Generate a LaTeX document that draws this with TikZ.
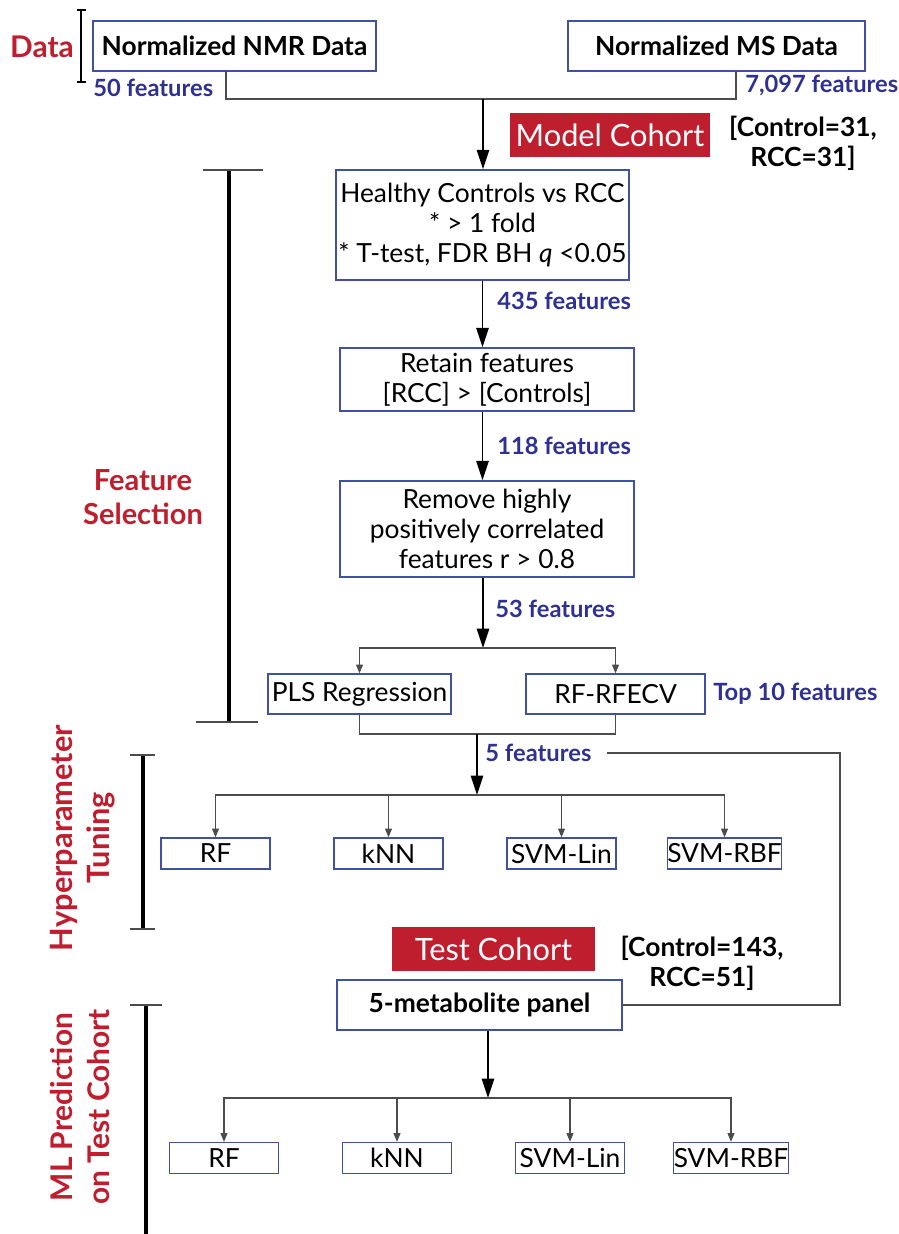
\documentclass[tikz,border=0pt]{standalone}
\usepackage{fontspec}
\setmainfont{Lato}
\usetikzlibrary{calc, arrows.meta}
\definecolor{cohortRed}{RGB}{190, 30, 45}
\definecolor{featBlue}{RGB}{46, 49, 146}
\definecolor{boxBlue}{RGB}{63, 81, 160}
\newcommand{\boxFont}{\fontsize{15}{17}\selectfont}
\newcommand{\featFont}{\fontsize{13.5}{16}\selectfont\bfseries}
\tikzstyle{flowBox} = [shape=rectangle, draw=boxBlue, line width=0.8pt, text=black,
	align=center, fill=white, inner sep=0pt, font=\boxFont]
\tikzstyle{dataBox} = [flowBox, minimum height=1cm, font=\fontsize{15}{18}\selectfont\bfseries]
\tikzstyle{modelBox} = [flowBox, minimum width=2.18cm, minimum height=0.62cm]
\tikzstyle{cohortBox} = [shape=rectangle, fill=cohortRed, text=white, inner sep=0pt,
	minimum width=4.02cm, minimum height=0.88cm, font=\fontsize{17.5}{20}\selectfont]
\tikzstyle{cohortText} = [align=center, font=\fontsize{15}{17}\selectfont\bfseries]
\tikzstyle{featText} = [anchor=west, text=featBlue, inner sep=0pt, font=\featFont]
\tikzstyle{stageText} = [align=center, text=cohortRed, font=\fontsize{16.5}{19}\selectfont\bfseries]
\tikzstyle{stageBar} = [line width=2.2pt, black]
\tikzstyle{thinLine} = [line width=0.6pt, draw=black!70]
\tikzstyle{thinArrow} = [thinLine, -{Triangle[length=5pt, width=4pt]}]
\tikzstyle{bigArrow} = [line width=1pt, draw=black, -{Triangle[length=11pt, width=7pt]}]

\begin{document}
\begin{tikzpicture}[x=0.02cm, y=-0.02cm]
  \useasboundingbox (0,0) rectangle (899,1234);

  % data
  \node (nmr) [dataBox, minimum width=5.66cm] at (234.5,46) {Normalized NMR Data};
  \node (ms)  [dataBox, minimum width=5.94cm] at (716.5,46) {Normalized MS Data};
  \node (nmrFeat) [featText] at (93,88) {50 features};
  \node (msFeat)  [featText] at (745,85) {7,097 features};
  \coordinate (nmrOut) at (226,71);
  \coordinate (msOut) at (736,71);
  \coordinate (dataJoin) at (483,99);

  \node (model) [cohortBox] at (610,135) {Model Cohort};
  \node (modelN) [cohortText] at (803,143) {[Control=31,\\RCC=31]};

  % feature selection
  \node (healthy) [flowBox, minimum width=5.86cm, minimum height=2.2cm] at (482.5,225)
    {Healthy Controls vs RCC\\* > 1 fold\\* T-test, FDR BH \textit{q} <0.05};
  \node (retain) [flowBox, minimum width=5.88cm, minimum height=1.26cm] at (487,379.5)
    {Retain features\\{[RCC]} > [Controls]};
  \node (remove) [flowBox, minimum width=5.88cm, minimum height=1.92cm] at (487,529)
    {Remove highly\\positively correlated\\features r > 0.8};
  \node (feat435) [featText] at (497,301) {435 features};
  \node (feat118) [featText] at (497,446) {118 features};
  \node (feat53)  [featText] at (495,609) {53 features};
  \coordinate (selSplit) at (483,648);
  \node (pls)   [flowBox, minimum width=3.66cm, minimum height=0.8cm] at (359.5,694) {PLS Regression};
  \node (rfecv) [flowBox, minimum width=3.58cm, minimum height=0.8cm] at (615.5,694) {RF-RFECV};
  \node (top10) [featText] at (713,694) {Top 10 features};
  \coordinate (selJoin) at (477,734);

  % tuning
  \node (feat5) [featText] at (485,753) {5 features};
  \coordinate (tuneSplit) at (477,795);
  \coordinate (fbStart) at (607,753);
  \coordinate (fbCorner) at (840,753);
  \node (tuneRF)  [modelBox] at (215.5,853.5) {RF};
  \node (tuneKNN) [modelBox] at (388.5,853.5) {kNN};
  \node (tuneLin) [modelBox] at (561.5,853.5) {SVM-Lin};
  \node (tuneRBF) [modelBox] at (724.5,853.5) {SVM-RBF};

  % test cohort
  \node (test) [cohortBox, minimum width=4.06cm] at (493.5,949) {Test Cohort};
  \node (testN) [cohortText] at (702,963) {[Control=143,\\RCC=51]};
  \node (panel) [dataBox, minimum width=5.7cm] at (479.5,1005) {5-metabolite panel};
  \coordinate (predSplit) at (488,1098);
  \node (predRF)  [modelBox] at (224,1158) {RF};
  \node (predKNN) [modelBox] at (397,1158) {kNN};
  \node (predLin) [modelBox] at (570,1158) {SVM-Lin};
  \node (predRBF) [modelBox] at (731,1158) {SVM-RBF};

  % stage labels and bars
  \node (dataLab) [stageText, font=\fontsize{17}{20}\selectfont\bfseries] at (42,47) {Data};
  \node (selLab) [stageText] at (143,497) {Feature\\Selection};
  \node (tuneLab) [stageText, rotate=90, font=\fontsize{17.5}{21}\selectfont\bfseries] at (83,838) {Hyperparameter\\Tuning};
  \node (predLab) [stageText, rotate=90, font=\fontsize{17}{21}\selectfont\bfseries] at (80,1107) {ML Prediction\\on Test Cohort};
  \draw [stageBar, line width=1.6pt] (81,10) -- (81,82);
  \draw [thinLine, line width=1pt, black] (77,10) -- (86,10) (77,82) -- (86,82);
  \draw [stageBar] (229,170) -- (229,722);
  \draw [thinLine, line width=1.2pt] (203,170) -- (263,170) (196,722) -- (258,722);
  \draw [stageBar] (143,755) -- (143,929);
  \draw [thinLine, line width=1.2pt] (130,755) -- (155,755) (130,929) -- (155,929);
  \draw [stageBar] (146,1005) -- (146,1234);
  \draw [thinLine, line width=1.2pt] (130,1005) -- (162,1005);

  % connectors
  \draw [thinLine] (nmrOut) |- (dataJoin);
  \draw [thinLine] (msOut) |- (dataJoin);
  \draw [bigArrow] (dataJoin) -- (dataJoin |- healthy.north);
  \draw [bigArrow] (healthy.south) -- (healthy.south |- retain.north);
  \draw [bigArrow] (retain.south -| healthy.south) -- (healthy.south |- remove.north);
  \draw [bigArrow] (remove.south -| selSplit) -- (selSplit);
  \draw [thinArrow] (selSplit) -| (pls.north);
  \draw [thinArrow] (selSplit) -| (rfecv.north);
  \draw [thinLine] (pls.south) |- (selJoin);
  \draw [thinLine] (rfecv.south) |- (selJoin);
  \draw [bigArrow] (selJoin) -- (tuneSplit);
  \foreach \m in {tuneRF, tuneKNN, tuneLin, tuneRBF}
    \draw [thinArrow] (tuneSplit) -| (\m.north);
  \draw [thinLine] (fbStart) -- (fbCorner) |- (panel.east);
  \draw [bigArrow] (panel.south -| predSplit) -- (predSplit);
  \foreach \m in {predRF, predKNN, predLin, predRBF}
    \draw [thinArrow] (predSplit) -| (\m.north);

\end{tikzpicture}
\end{document}
